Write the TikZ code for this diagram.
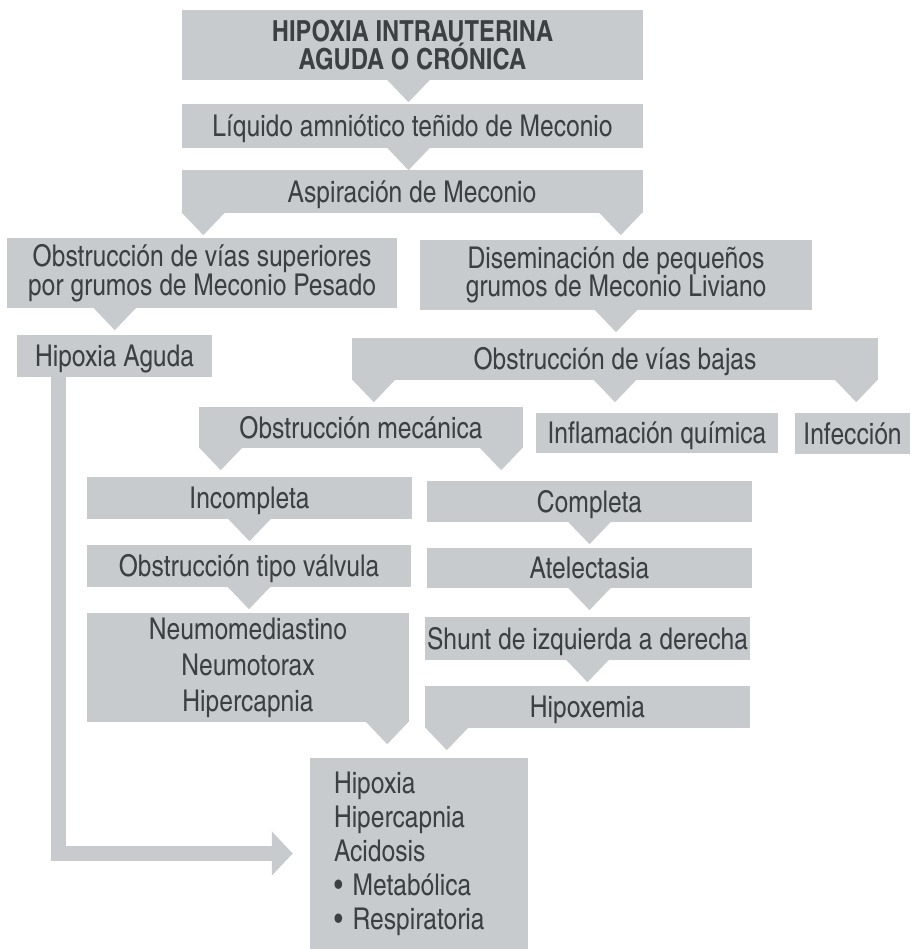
\documentclass[tikz,border=0pt]{standalone}
\usepackage{fontspec}
\setmainfont{TeX Gyre Heros Cn}
\usetikzlibrary{arrows.meta,calc}
\definecolor{boxgray}{RGB}{200,203,205}
\definecolor{ink}{RGB}{60,64,66}

\begin{document}
\begin{tikzpicture}[
  x=1pt, y=-1pt,
  every node/.style={font=\fontsize{30}{27}\selectfont, text=ink},
  box/.style 2 args={rectangle, fill=boxgray, inner sep=0pt, align=center, minimum width=#1, minimum height=#2},
  oneline/.style={text height=21.5pt, text depth=0pt},
  tab/.style={fill=boxgray},
  bar/.style={draw=boxgray, line width=15pt, line join=miter, -{Triangle[length=21pt,width=43pt]}}
]
  \useasboundingbox (0,0) rectangle (910,949);

  \node[box={461}{70}, font=\bfseries\fontsize{29}{27}\selectfont] (hipox) at (412.5,45) {HIPOXIA INTRAUTERINA\\AGUDA O CRÓNICA};
  \node[box={461}{44}, oneline] (liq) at (412.5,126) {Líquido amniótico teñido de Meconio};
  \node[box={461}{43}, oneline] (asp) at (412,191.5) {Aspiración de Meconio};

  \node[box={390}{70}] (sup) at (202,273) {Obstrucción de vías superiores\\por grumos de Meconio Pesado};
  \node[box={392}{70}] (dis) at (616,275) {Diseminación de pequeños\\grumos de Meconio Liviano};
  \node[box={195}{42}, oneline] (hag) at (114.5,356) {Hipoxia Aguda};
  \node[box={526}{42}, oneline] (baj) at (615,359) {Obstrucción de vías bajas};

  \node[box={324}{41}, oneline] (mec) at (361,427.5) {Obstrucción mecánica};
  \node[box={242}{40}, oneline] (quim) at (657,433) {Inflamación química};
  \node[box={115}{41}, oneline] (infec) at (852.5,433.5) {Infección};

  \node[box={325}{42}, oneline] (inc) at (249.5,498) {Incompleta};
  \node[box={325}{41}, oneline] (comp) at (589.5,501.5) {Completa};
  \node[box={324}{42}, oneline] (valv) at (249,566) {Obstrucción tipo válvula};
  \node[box={325}{40}, oneline] (atel) at (589.5,568) {Atelectasia};
  \node[box={322}{109}, font=\fontsize{30}{36}\selectfont] (neumo) at (248,667.5) {Neumomediastino\\Neumotorax\\Hipercapnia};
  \node[box={325}{43}, oneline] (shunt) at (587.5,638.5) {Shunt de izquierda a derecha};
  \node[box={325}{42}, oneline] (hxm) at (587.5,707) {Hipoxemia};

  \node[box={218}{191}, align=left, text width=170pt, font=\fontsize{30}{34}\selectfont] (res) at (419,853.5) {Hipoxia\\Hipercapnia\\Acidosis\\\textbullet\ Metabólica\\\textbullet\ Respiratoria};

  % pointers under the boxes
  \foreach \a/\dx in {hipox.south/-4, liq.south/-4, asp.south west/22, asp.south east/-22,
                      sup.south west/108, dis.south/0,
                      baj.south west/22, baj.south/0, baj.south east/-22,
                      mec.south west/22, mec.south east/-22,
                      inc.south/0, comp.south/0, valv.south/0, atel.south/0, shunt.south/0,
                      neumo.south east/-22, hxm.south west/22}
    \fill[tab] ($(\a)+(\dx,0)$) ++(-22,-1) -- ++(44,0) -- ++(-22,23) -- cycle;

  \draw[bar] ($(hag.south west)+(42,0)$) |- ($(res.west)+(-17,0)$);
\end{tikzpicture}
\end{document}
